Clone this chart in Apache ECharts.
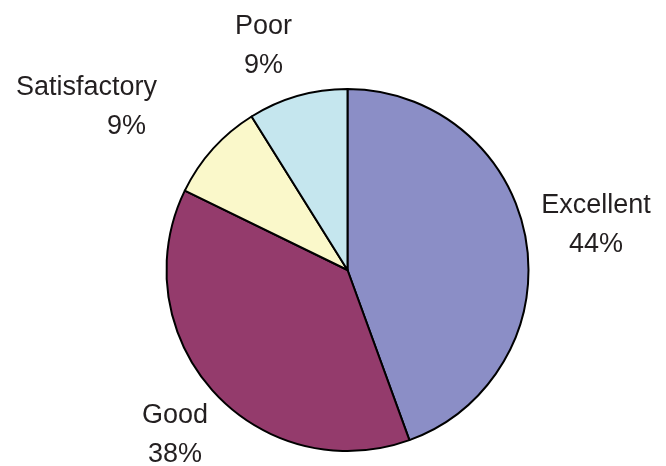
<!DOCTYPE html>
<html>
<head>
<meta charset="utf-8">
<script src="https://cdn.jsdelivr.net/npm/echarts@6/dist/echarts.min.js"></script>
<style>
html,body{margin:0;padding:0;background:#fff;}
#chart{width:666px;height:466px;}
</style>
</head>
<body>
<div id="chart"></div>
<script>
const categories = ['Excellent', 'Good', 'Satisfactory', 'Poor'];
const values = [20, 17, 4, 4];
const colors = ['#8B8EC6', '#943B6C', '#FAF8CA', '#C5E6EE'];

const labelSpots = {
  'Excellent': [596, 225],
  'Good': [175, 435],
  'Satisfactory': [86.5, 107],
  'Poor': [263.5, 46]
};

const chart = echarts.init(document.getElementById('chart'), null, {renderer: 'canvas'});
chart.setOption({
  animation: false,
  backgroundColor: '#ffffff',
  series: [{
    type: 'pie',
    center: [347.5, 270],
    radius: 181,
    startAngle: 90,
    clockwise: true,
    avoidLabelOverlap: false,
    emphasis: {disabled: true},
    itemStyle: {borderColor: '#000000', borderWidth: 2},
    labelLine: {show: false},
    label: {
      show: true,
      position: 'outside',
      fontFamily: 'Liberation Sans, Arial, sans-serif',
      fontSize: 27,
      color: '#231F20',
      lineHeight: 38.5,
      formatter: function (p) {
        const pct = Math.round(p.percent) + '%';
        if (p.name === 'Satisfactory') {
          return '{n|' + p.name + '}\n{r|' + pct + '}';
        }
        return '{n|' + p.name + '}\n{n|' + pct + '}';
      },
      rich: {
        n: {fontFamily: 'Liberation Sans, Arial, sans-serif', fontSize: 27, color: '#231F20', lineHeight: 38.5, align: 'center'},
        r: {fontFamily: 'Liberation Sans, Arial, sans-serif', fontSize: 27, color: '#231F20', lineHeight: 38.5, align: 'right', padding: [0, 11, 0, 0]}
      }
    },
    labelLayout: function (params) {
      const name = categories[params.dataIndex];
      const s = labelSpots[name];
      return {x: s[0], y: s[1], align: 'center', verticalAlign: 'middle'};
    },
    data: categories.map(function (c, i) {
      return {name: c, value: values[i], itemStyle: {color: colors[i]}};
    })
  }]
});
</script>
</body>
</html>
